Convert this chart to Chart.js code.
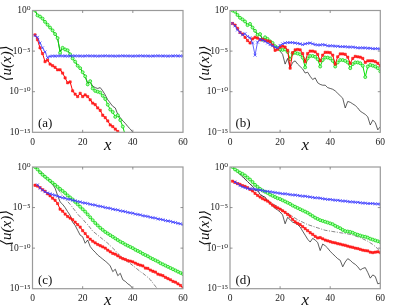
<!DOCTYPE html>
<html><head><meta charset="utf-8">
<script src="https://cdn.jsdelivr.net/npm/chart.js@4.4.1/dist/chart.umd.min.js"></script>
<style>
html,body{margin:0;padding:0;background:#fff;width:399px;height:307px;overflow:hidden;}
canvas{position:absolute;}
</style></head><body>
<canvas id="ca" width="199" height="153" style="left:0;top:0"></canvas>
<canvas id="cb" width="200" height="153" style="left:199px;top:0"></canvas>
<canvas id="cc" width="199" height="154" style="left:0;top:153px"></canvas>
<canvas id="cd" width="200" height="154" style="left:199px;top:153px"></canvas>
<script>
// x positions (shared by all panels)
const xs = [1,2,3,4,5,6,7,8,9,10,11,12,13,14,15,16,17,18,19,20,21,22,23,24,25,26,27,28,29,30,
  31,32,33,34,35,36,37,38,39,40,41,42,43,44,45,46,47,48,49,50,51,52,53,54,55,56,57,58,59,60];
const xTicks = [0,20,40,60];
const yTickValues = [1e-15,1e-10,1e-5,1];
const yTickLabels = ['10\u207B\u00B9\u2075','10\u207B\u00B9\u2070','10\u207B\u2075','10\u2070'];
const panelLabels = ['(a)','(b)','(c)','(d)'];
// series values are log10 <u(x)>
const aBlue = [-3.1,-3.3,-4.0,-4.6,-5.1,-5.8,-5.65,-5.6,-5.62,-5.6,-5.58,-5.6,-5.6,-5.62,-5.6,-5.58,-5.6,-5.6,-5.6,-5.62,
  -5.6,-5.58,-5.6,-5.6,-5.6,-5.62,-5.6,-5.6,-5.58,-5.6,-5.6,-5.6,-5.62,-5.6,-5.6,-5.58,-5.6,-5.6,-5.6,-5.62,
  -5.6,-5.6,-5.58,-5.6,-5.6,-5.6,-5.62,-5.6,-5.6,-5.58,-5.6,-5.6,-5.6,-5.62,-5.6,-5.6,-5.58,-5.6,-5.6,-5.6];
const aRed = [-3.0,-3.6,-4.6,-5.3,-6.3,-6.1,-6.6,-6.8,-7.0,-7.3,-7.3,-7.7,-8.3,-8.9,-8.8,-9.9,-10.3,-10.6,-10.2,-10.6,
  -10.4,-10.6,-11.0,-11.4,-11.6,-12.0,-12.3,-12.9,-13.2,-13.6,-14.1,-14.3,-14.6,-14.9,null,null,null,null,null,null,
  null,null,null,null,null,null,null,null,null,null,null,null,null,null,null,null,null,null,null,null];
const aGreen = [0,-0.6,-0.75,-1.0,-1.4,-1.75,-2.1,-2.45,-2.9,-3.4,-5.2,-4.6,-4.8,-4.9,-5.4,-5.9,-6.3,-6.8,-7.1,-7.6,
  -8.1,-9.1,-8.7,-9.6,-9.9,-10.0,-10.1,-10.5,-10.9,-11.6,-12.2,-12.5,-13.1,-12.9,-13.5,-14.3,-15.4,null,null,null,
  null,null,null,null,null,null,null,null,null,null,null,null,null,null,null,null,null,null,null,null];
const aBlack = [0,-0.6,-0.75,-1.0,-1.4,-1.75,-2.1,-2.45,-2.9,-3.4,-5.0,-4.6,-4.8,-4.9,-5.4,-5.9,-6.3,-6.8,-7.1,-7.6,
  -8.1,-8.9,-8.8,-9.3,-9.5,-9.6,-9.5,-9.9,-10.4,-11.0,-11.4,-11.8,-12.0,-12.8,-13.2,-13.6,-13.9,-14.3,-14.6,-15.0,
  -15.4,null,null,null,null,null,null,null,null,null,null,null,null,null,null,null,null,null,null,null];

const bBlue = [-1.6,-1.9,-2.4,-2.7,-3.0,-2.85,-3.2,-3.35,-4.0,-5.5,-3.9,-3.55,-3.65,-3.8,-4.0,-4.2,-4.35,-4.5,-4.6,-4.3,
  -4.1,-4.0,-3.95,-3.95,-3.95,-4.0,-4.05,-4.1,-4.2,-4.1,-4.05,-4.0,-4.1,-4.2,-4.25,-4.25,-4.2,-4.25,-4.35,-4.35,
  -4.35,-4.4,-4.4,-4.45,-4.45,-4.45,-4.5,-4.5,-4.5,-4.55,-4.6,-4.6,-4.6,-4.6,-4.65,-4.65,-4.7,-4.7,-4.7,-4.75];
const bRed = [-1.6,-1.8,-2.2,-2.7,-2.9,-3.3,-3.7,-4.0,-3.5,-3.3,-3.4,-3.6,-3.55,-3.7,-3.75,-3.85,-4.25,-4.9,-4.8,-4.5,
  -4.4,-4.5,-4.9,-7.1,-5.2,-4.85,-4.8,-4.85,-5.3,-6.3,-5.3,-5.0,-5.0,-5.1,-5.4,-6.2,-5.5,-5.15,-5.15,-5.2,
  -5.5,-6.6,-5.7,-5.35,-5.35,-5.4,-5.75,-6.5,-5.9,-5.65,-5.7,-5.75,-5.9,-6.4,-6.2,-6.2,-6.2,-6.3,-6.5,-6.8];
const bGreen = [0,-0.15,-0.55,-0.9,-1.1,-1.35,-1.8,-1.65,-2.1,-2.5,-3.0,-2.9,-3.6,-3.3,-3.5,-3.8,-4.0,-4.4,-4.6,-4.8,
  -4.85,-4.8,-5.1,-6.0,-5.3,-5.2,-5.3,-5.4,-5.8,-7.0,-5.9,-5.6,-5.6,-5.7,-6.0,-6.9,-6.1,-5.8,-5.8,-5.9,
  -6.2,-6.9,-6.4,-6.1,-6.1,-6.2,-6.4,-7.1,-6.6,-6.4,-6.4,-6.5,-6.8,-8.2,-6.9,-6.7,-6.8,-6.9,-7.1,-7.5];
const bBlack = [0,-0.15,-0.55,-0.9,-1.1,-1.35,-1.8,-1.65,-2.1,-2.5,-3.0,-2.9,-3.6,-3.3,-3.5,-3.8,-4.1,-4.5,-4.7,-5.0,
  -5.4,-6.6,-5.9,-7.1,-6.4,-6.2,-6.6,-6.9,-7.2,-7.7,-7.6,-8.1,-8.5,-8.3,-8.9,-9.1,-9.2,-9.2,-9.5,-9.6,
  -9.7,-9.9,-10.2,-10.5,-10.8,-12.0,-11.2,-11.3,-11.5,-11.7,-12.0,-12.4,-12.6,-12.8,-13.1,-14.1,-13.5,-13.8,-14.7,-14.3];

const cBlue = [null,-2.2,-2.6,-2.85,-3.05,-3.2,-3.3,-3.4,-3.5,-3.6,-3.7,-3.8,-3.85,-3.95,-4.0,-4.1,-4.15,-4.25,-4.3,-4.4,
  -4.45,-4.5,-4.6,-4.65,-4.7,-4.8,-4.85,-4.9,-5.0,-5.05,-5.1,-5.2,-5.25,-5.3,-5.4,-5.45,-5.5,-5.6,-5.65,-5.7,
  -5.8,-5.85,-5.9,-6.0,-6.05,-6.1,-6.2,-6.25,-6.3,-6.4,-6.45,-6.5,-6.6,-6.65,-6.7,-6.8,-6.85,-6.95,-7.0,-7.1];
const cRed = [-2.25,-2.35,-2.55,-2.8,-3.0,-3.3,-3.55,-3.85,-4.1,-4.5,-5.2,-5.45,-5.8,-6.1,-6.3,-6.5,-6.8,-7.1,-7.4,-7.85,
  -8.2,-8.6,-8.9,-9.15,-9.35,-9.55,-9.7,-9.85,-10.0,-10.25,-10.45,-10.65,-10.75,-10.95,-11.15,-11.3,-11.4,-11.55,-11.6,-11.7,
  -11.85,-12.0,-12.1,-12.2,-12.45,-12.5,-12.7,-12.85,-12.95,-13.2,-13.3,-13.4,-13.6,-13.75,-13.9,-14.1,-14.2,-14.4,-14.6,-14.9];
const cGreen = [0,-0.3,-0.65,-0.95,-1.2,-1.45,-1.7,-1.95,-2.2,-2.45,-2.7,-2.95,-3.2,-3.5,-3.75,-4.0,-4.3,-4.6,-4.9,-5.2,
  -5.5,-5.85,-6.2,-6.55,-6.9,-7.2,-7.5,-7.75,-8.0,-8.2,-8.4,-8.6,-8.8,-9.0,-9.2,-9.35,-9.55,-9.7,-9.85,-10.0,
  -10.2,-10.35,-10.5,-10.7,-10.85,-11.0,-11.2,-11.35,-11.5,-11.65,-11.85,-12.0,-12.15,-12.3,-12.45,-12.6,-12.75,-12.9,-13.05,-13.2];
const cBlack = [0,-0.35,-0.7,-1.0,-1.3,-1.55,-1.85,-2.15,-2.6,-3.5,-4.3,-4.6,-5.0,-5.5,-5.95,-6.8,-7.2,-7.8,-8.4,-8.6,
  -9.4,-9.0,-9.8,-10.2,-10.5,-10.85,-11.1,-11.35,-11.6,-11.85,-12.2,-12.9,-12.6,-13.4,-13.1,-13.9,-14.1,-14.4,-14.6,-15.0,
  -15.4,null,null,null,null,null,null,null,null,null,null,null,null,null,null,null,null,null,null,null];
const cDash = [0,-0.25,-0.5,-0.75,-1.05,-1.35,-1.65,-1.95,-2.3,-2.7,-3.1,-3.5,-3.85,-4.25,-4.6,-5.0,-5.4,-5.8,-6.15,-6.4,
  -6.8,-7.1,-7.5,-7.9,-8.15,-8.4,-8.65,-8.9,-9.15,-9.4,-9.7,-10.0,-10.3,-10.65,-10.95,-11.2,-11.45,-11.7,-11.9,-12.15,
  -12.4,-12.65,-12.9,-13.1,-13.35,-13.6,-13.9,-14.3,-14.7,-15.1,-15.5,null,null,null,null,null,null,null,null,null];

const dBlue = [null,-1.85,-2.05,-2.3,-2.45,-2.55,-2.65,-2.7,-2.7,-2.75,-2.8,-2.85,-2.9,-3.0,-3.0,-3.05,-3.1,-3.15,-3.2,-3.25,
  -3.3,-3.3,-3.35,-3.4,-3.45,-3.45,-3.5,-3.55,-3.6,-3.6,-3.65,-3.7,-3.75,-3.8,-3.8,-3.85,-3.9,-3.95,-4.0,-4.0,
  -4.05,-4.1,-4.1,-4.15,-4.2,-4.2,-4.25,-4.3,-4.3,-4.35,-4.35,-4.4,-4.45,-4.45,-4.5,-4.5,-4.5,-4.55,-4.55,-4.6];
const dRed = [-1.75,-1.9,-2.05,-2.15,-2.3,-2.4,-2.55,-2.75,-2.95,-3.25,-3.5,-3.7,-3.9,-4.05,-4.2,-4.45,-4.7,-4.9,-5.05,-5.2,
  -5.4,-5.6,-5.85,-6.1,-6.45,-6.75,-6.95,-7.1,-7.35,-7.6,-7.85,-8.1,-8.3,-8.55,-8.75,-8.7,-8.85,-9.0,-9.1,-9.2,
  -9.3,-9.35,-9.45,-9.5,-9.6,-9.65,-9.75,-9.85,-9.9,-10.0,-10.05,-10.15,-10.25,-10.3,-10.35,-10.5,-10.55,-10.5,-10.45,-10.55];
const dGreen = [0,-0.3,-0.5,-0.7,-0.85,-1.05,-1.3,-1.55,-1.85,-2.2,-2.45,-2.7,-2.9,-3.05,-3.2,-3.4,-3.55,-3.7,-3.85,-3.95,
  -4.1,-4.25,-4.4,-4.55,-4.75,-4.9,-5.05,-5.2,-5.35,-5.5,-5.65,-5.85,-6.05,-6.25,-6.4,-6.55,-6.65,-6.75,-6.85,-6.95,
  -7.05,-7.25,-7.4,-7.55,-7.75,-7.9,-7.95,-8.0,-8.1,-8.25,-8.35,-8.45,-8.55,-8.6,-8.7,-8.85,-8.95,-9.05,-9.15,-9.25];
const dBlack = [0,-0.3,-0.6,-0.9,-1.2,-1.45,-1.8,-2.1,-2.35,-2.9,-2.8,-3.4,-3.6,-3.7,-4.2,-4.5,-4.8,-5.1,-5.3,-5.55,
  -5.9,-7.0,-6.2,-6.5,-6.8,-6.9,-7.1,-7.4,-7.9,-8.4,-8.9,-9.25,-8.8,-9.0,-9.3,-10.3,-9.5,-9.7,-10.0,-10.4,
  -10.7,-11.0,-11.3,-11.5,-12.3,-11.7,-11.3,-11.5,-11.8,-12.0,-12.3,-12.7,-12.5,-12.4,-13.0,-13.7,-13.3,-13.5,-14.4,-14.3];
const dDash = [0,-0.3,-0.6,-0.9,-1.2,-1.5,-1.8,-2.1,-2.4,-2.7,-3.0,-3.3,-3.55,-3.8,-4.05,-4.3,-4.5,-4.7,-4.9,-5.1,
  -5.3,-5.5,-5.7,-5.9,-6.1,-6.3,-6.5,-6.65,-6.8,-6.95,-7.1,-7.2,-7.3,-7.4,-7.5,-7.6,-7.7,-7.8,-7.85,-7.9,
  -7.95,-8.0,-8.05,-8.1,-8.15,-8.2,-8.25,-8.3,-8.4,-8.5,-8.6,-8.7,-8.85,-9.0,-9.15,-9.35,-9.55,-9.8,-10.1,-10.4];

function pts(arr){ return xs.map((x,i)=>({x:x, y: arr[i]===null ? null : Math.pow(10, arr[i])})); }

const SERIF = '"Liberation Serif","DejaVu Serif",serif';

const decor = {
  id:'decor',
  afterDatasetsDraw(chart, args, o){
    const ctx = chart.ctx, a = chart.chartArea;
    const xs_ = chart.scales.x, ys_ = chart.scales.y;
    ctx.save();
    ctx.strokeStyle = '#9a9a9a'; ctx.lineWidth = 1.2;
    ctx.strokeRect(a.left, a.top, a.right-a.left, a.bottom-a.top);
    ctx.lineWidth = 0.8; ctx.strokeStyle = '#777';
    [20,40].forEach(v=>{ const p = xs_.getPixelForValue(v);
      ctx.beginPath(); ctx.moveTo(p,a.bottom); ctx.lineTo(p,a.bottom-2.5);
      ctx.moveTo(p,a.top); ctx.lineTo(p,a.top+2.5); ctx.stroke(); });
    [1e-5,1e-10].forEach(v=>{ const p = ys_.getPixelForValue(v);
      ctx.beginPath(); ctx.moveTo(a.left,p); ctx.lineTo(a.left+2.5,p);
      ctx.moveTo(a.right,p); ctx.lineTo(a.right-2.5,p); ctx.stroke(); });
    ctx.fillStyle = '#111';
    ctx.font = '13px ' + SERIF; ctx.textAlign='left'; ctx.textBaseline='alphabetic';
    ctx.fillText(o.label, a.left+5.5, a.bottom-5);
    ctx.font = 'italic 17px ' + SERIF; ctx.textAlign='center'; ctx.textBaseline='middle';
    ctx.fillText('x', (a.left+a.right)/2, a.bottom+o.xTitleDy);
    ctx.translate(o.yTitleX, (a.top+a.bottom)/2 + o.yTitleDy);
    ctx.rotate(-Math.PI/2);
    ctx.font = 'italic 15px ' + SERIF;
    ctx.fillText('\u27E8u(x)\u27E9', 0, 0);
    ctx.restore();
  }
};

function makePanel(id, label, blue, red, green, black, dash, g){
  const ds = [
    {data:pts(blue), borderColor:'#3c3cff', borderWidth:0.8, pointStyle:'crossRot', pointRadius:2,
     pointBorderColor:'#3c3cff', pointBorderWidth:0.8, pointBackgroundColor:'rgba(0,0,0,0)'},
    {data:pts(red), borderColor:'#ff0000', borderWidth:1, pointStyle:'rect', pointRadius:1.6,
     pointBackgroundColor:'#ff2a2a', pointBorderColor:'#ff0000', pointBorderWidth:0.5},
    {data:pts(green), borderColor:'#00e000', borderWidth:1, pointStyle:'circle', pointRadius:1.5,
     pointBackgroundColor:'#a8ffa8', pointBorderColor:'#00d000', pointBorderWidth:0.7},
    {data:pts(black), borderColor:'#1a1a1a', borderWidth:0.7, pointRadius:0}
  ];
  if (dash) ds.push({data:pts(dash), borderColor:'#333', borderWidth:0.6, borderDash:[4,1.5,1,1.5], pointRadius:0});
  ds.forEach(d=>{ d.fill=false; d.tension=0; d.spanGaps=false; });
  new Chart(document.getElementById(id), {
    type:'line',
    data:{datasets:ds},
    options:{
      responsive:false, animation:false, devicePixelRatio:1, events:[],
      layout:{padding:{left:0, top:g.T, right:g.R, bottom:0}},
      plugins:{legend:{display:false}, tooltip:{enabled:false}, title:{display:false},
               decor:{label:label, xTitleDy:g.xDy, yTitleX:g.yX, yTitleDy:g.yDy}},
      scales:{
        x:{type:'linear', min:0, max:60, grid:{display:false, drawTicks:false}, border:{display:false},
           afterBuildTicks:s=>{ s.ticks = xTicks.map(v=>({value:v})); },
           ticks:{autoSkip:false, maxRotation:0, padding:4, color:'#222', font:{family:SERIF, size:9.5},
                  callback:(v)=>String(v)},
           afterFit:s=>{ s.height = g.B; s.paddingLeft=0; s.paddingRight=0; }},
        y:{type:'logarithmic', min:1e-15, max:1, grid:{display:false, drawTicks:false}, border:{display:false},
           afterBuildTicks:s=>{ s.ticks = yTickValues.map(v=>({value:v})); },
           ticks:{autoSkip:false, padding:2, color:'#222', font:{family:SERIF, size:9.5},
                  callback:(v,i)=>yTickLabels[i]},
           afterFit:s=>{ s.width = g.L; s.paddingTop=0; s.paddingBottom=0; }}
      }
    },
    plugins:[decor]
  });
}

makePanel('ca', panelLabels[0], aBlue, aRed, aGreen, aBlack, null, {L:32.5, T:10.5, R:16, B:20.7, xDy:13, yX:7, yDy:-8});
makePanel('cb', panelLabels[1], bBlue, bRed, bGreen, bBlack, null, {L:31, T:10.5, R:18.7, B:20.7, xDy:13, yX:6, yDy:-8});
makePanel('cc', panelLabels[2], cBlue, cRed, cGreen, cBlack, cDash, {L:32.5, T:14, R:16, B:18.3, xDy:12, yX:7, yDy:0});
makePanel('cd', panelLabels[3], dBlue, dRed, dGreen, dBlack, dDash, {L:31, T:14, R:18.7, B:18.3, xDy:12, yX:6, yDy:0});
</script>
</body></html>
